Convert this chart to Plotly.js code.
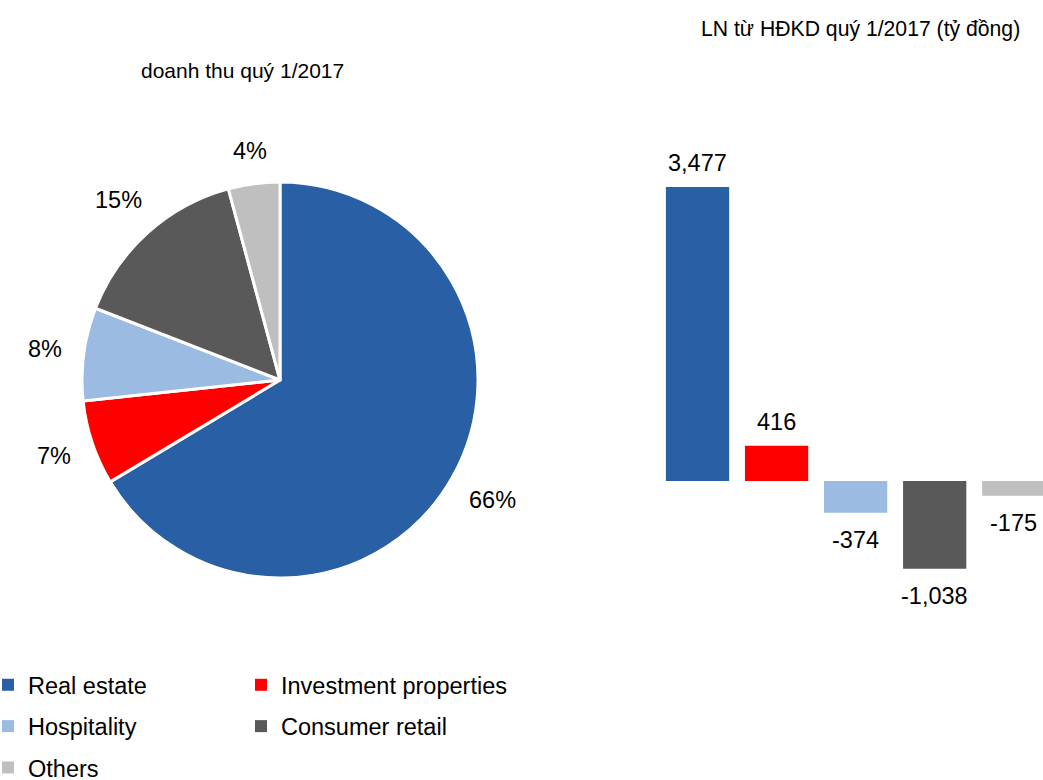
<!DOCTYPE html>
<html>
<head>
<meta charset="utf-8">
<script src="https://cdn.plot.ly/plotly-3.0.1.min.js"></script>
<style>html,body{margin:0;padding:0;background:#fff;}#chart{width:1043px;height:780px;}</style>
</head>
<body>
<div id="chart"></div>
<script>
// Data
var categories = ["Real estate", "Investment properties", "Hospitality", "Consumer retail", "Others"];
var revenueShare = [66.4, 6.9, 7.6, 14.9, 4.2];        // % of revenue, Q1/2017
var operatingProfit = [3477, 416, -374, -1038, -175];  // tỷ đồng
var colors = ["#295FA4", "#FF0000", "#9BBBE3", "#595959", "#BFBFBF"];
var legendOf = ["legend", "legend2", "legend", "legend2", "legend"];
var pieTitle = "doanh thu quý 1/2017";
var barTitle = "LN từ HĐKD quý 1/2017 (tỷ đồng)";

var FONT = "Liberation Sans, Arial, sans-serif";
var W = 1043, H = 780;
var LABEL_SIZE = 23.5;

// pie geometry (domain)
var pieCx = 280, pieCy = 380, pieR = 198;

var traces = [];
traces.push({
  type: "pie",
  labels: categories,
  values: revenueShare,
  sort: false,
  direction: "clockwise",
  rotation: 0,
  marker: {colors: colors, line: {color: "#ffffff", width: 3}},
  textinfo: "none",
  showlegend: false,
  hoverinfo: "label+percent",
  domain: {x: [(pieCx - pieR) / W, (pieCx + pieR) / W], y: [(H - pieCy - pieR) / H, (H - pieCy + pieR) / H]}
});

for (var i = 0; i < categories.length; i++) {
  traces.push({
    type: "bar",
    x: [categories[i]],
    y: [operatingProfit[i]],
    name: categories[i],
    marker: {color: colors[i]},
    legend: legendOf[i],
    legendgroup: "g" + i,
    xaxis: "x",
    yaxis: "y",
    hoverinfo: "x+y"
  });
}

var annotations = [];

// pie percentage labels, placed outside each slice along its mid-angle
var ctx = document.createElement("canvas").getContext("2d");
ctx.font = LABEL_SIZE + "px 'Liberation Sans'";
var total = revenueShare.reduce(function (a, b) { return a + b; }, 0);
var cum = 0;
for (var k = 0; k < revenueShare.length; k++) {
  var frac = revenueShare[k] / total;
  var mid = (cum + frac / 2) * 2 * Math.PI; // clockwise from 12 o'clock
  cum += frac;
  var dx = Math.sin(mid), dy = -Math.cos(mid);
  var txt = Math.round(frac * 100) + "%";
  var hw = ctx.measureText(txt).width / 2, hh = 9.5;
  var D = pieR + 21 + Math.abs(dx) * hw + Math.abs(dy) * hh;
  annotations.push({
    xref: "paper", yref: "paper",
    x: (pieCx + dx * D) / W, y: 1 - (pieCy + dy * D) / H,
    text: txt, showarrow: false, xanchor: "center", yanchor: "middle",
    font: {family: FONT, size: LABEL_SIZE, color: "#000"}
  });
}

// bar value labels
for (var j = 0; j < categories.length; j++) {
  var v = operatingProfit[j];
  annotations.push({
    xref: "x", yref: "y", x: categories[j], y: v,
    text: v.toLocaleString("en-US"),
    showarrow: false, yanchor: "middle",
    yshift: v >= 0 ? 24 : -27,
    font: {family: FONT, size: LABEL_SIZE, color: "#000"}
  });
}
annotations.push({
  xref: "paper", yref: "paper", x: 242 / W, y: 1 - 70 / H,
  text: pieTitle, showarrow: false, xanchor: "center", yanchor: "middle",
  font: {family: FONT, size: 21, color: "#000"}
});
annotations.push({
  xref: "paper", yref: "paper", x: 860 / W, y: 1 - 29 / H,
  text: barTitle, showarrow: false, xanchor: "center", yanchor: "middle",
  font: {family: FONT, size: 21.2, color: "#000"}
});

var yTop = 142.8, yBot = 616.3;
var layout = {
  width: W, height: H,
  margin: {l: 0, r: 0, t: 0, b: 0, autoexpand: false},
  paper_bgcolor: "#fff", plot_bgcolor: "rgba(0,0,0,0)",
  barmode: "overlay",
  bargap: 0.2,
  font: {family: FONT, color: "#000"},
  xaxis: {domain: [658 / W, 1], range: [-0.5, 4.37], type: "category",
          visible: false, showgrid: false, zeroline: false, fixedrange: true},
  yaxis: {domain: [1 - yBot / H, 1 - yTop / H], range: [-1600, 4000],
          visible: false, showgrid: false, zeroline: false, fixedrange: true},
  legend: {x: -12 / W, xanchor: "left", y: 1 - 663 / H, yanchor: "top",
           orientation: "v", traceorder: "grouped", tracegroupgap: 7.8,
           bgcolor: "rgba(0,0,0,0)", font: {family: FONT, size: 23.5, color: "#000"}},
  legend2: {x: 241 / W, xanchor: "left", y: 1 - 663 / H, yanchor: "top",
            orientation: "v", traceorder: "grouped", tracegroupgap: 7.8,
            bgcolor: "rgba(0,0,0,0)", font: {family: FONT, size: 23.5, color: "#000"}},
  annotations: annotations
};

Plotly.newPlot("chart", traces, layout, {displayModeBar: false, responsive: false});
</script>
</body>
</html>
